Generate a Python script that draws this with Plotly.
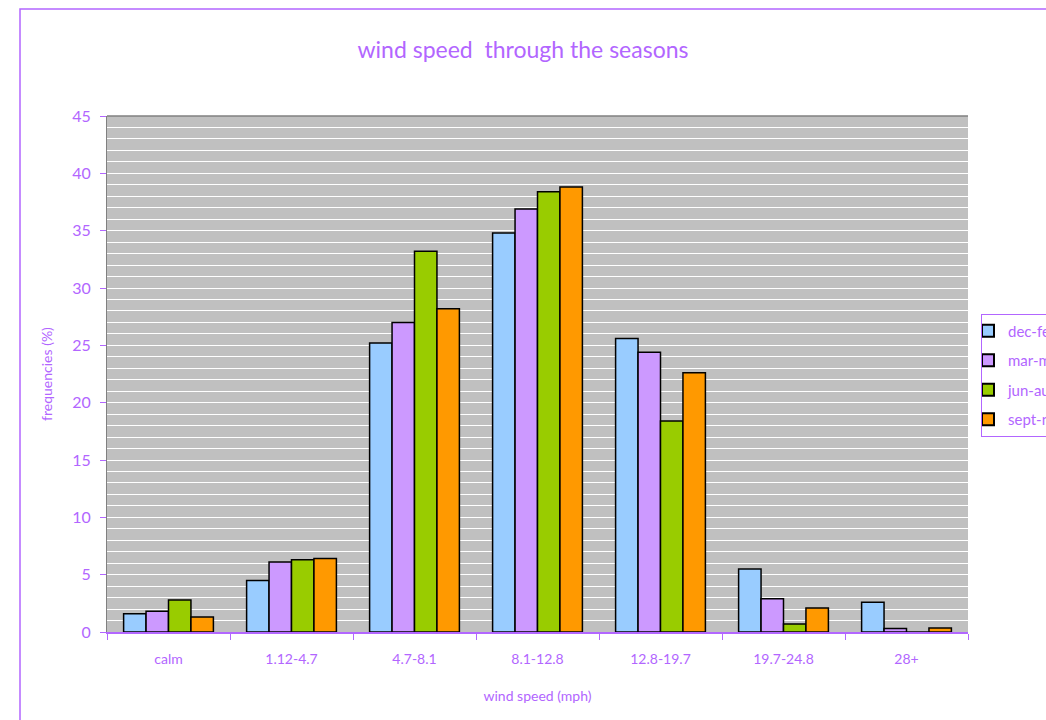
import plotly.graph_objects as go

# Wind speed bins (mph) and seasonal frequency (%) per bin
categories = ["calm", "1.12-4.7", "4.7-8.1", "8.1-12.8", "12.8-19.7", "19.7-24.8", "28+"]
dec_feb = [1.6, 4.5, 25.2, 34.8, 25.6, 5.5, 2.6]
mar_may = [1.8, 6.1, 27.0, 36.9, 24.4, 2.9, 0.3]
jun_aug = [2.8, 6.3, 33.2, 38.4, 18.4, 0.7, 0.0]
sept_nov = [1.3, 6.4, 28.2, 38.8, 22.6, 2.1, 0.35]

series = [
    ("dec-feb", dec_feb, "#99CCFF"),
    ("mar-may", mar_may, "#CC99FF"),
    ("jun-aug", jun_aug, "#99CC00"),
    ("sept-nov", sept_nov, "#FF9900"),
]

PURPLE = "#B266FF"
FONT = "Lato"

fig = go.Figure()
for name, vals, color in series:
    fig.add_trace(go.Bar(
        name=name, x=categories, y=vals, legendgroup=name,
        marker=dict(color=color, line=dict(color="#000000", width=1.5)),
    ))

W, H = 1046, 720
L, R, T, B = 107, 78, 116, 88
pw, ph = W - L - R, H - T - B

def px_x(p):
    return (p - L) / pw

def px_y(p):
    return (H - B - p) / ph

fig.update_layout(
    width=W, height=H,
    margin=dict(l=L, r=R, t=T, b=B, autoexpand=False),
    paper_bgcolor="white",
    plot_bgcolor="#C0C0C0",
    barmode="group",
    bargap=0.27,
    bargroupgap=0.0,
    font=dict(family=FONT, color=PURPLE),
    title=dict(text="wind speed  through the seasons", x=0.5, xanchor="center",
               y=1 - 50 / H, yanchor="middle",
               font=dict(size=23, color=PURPLE, family=FONT)),
    legend=dict(x=px_x(981), xanchor="left", y=px_y(375), yanchor="middle",
                bordercolor=PURPLE, borderwidth=1, bgcolor="white",
                font=dict(size=15, color=PURPLE, family=FONT),
                tracegroupgap=7, itemsizing="constant",
                itemwidth=30, indentation=-14),
    xaxis=dict(
        showgrid=False, zeroline=False,
        showline=True, linecolor=PURPLE, linewidth=2,
        ticks="outside", tickson="boundaries", ticklen=6, tickcolor=PURPLE,
        ticklabelstandoff=13,
        tickfont=dict(size=14, color=PURPLE, family=FONT),
        title=dict(text="wind speed (mph)", standoff=25,
                   font=dict(size=14, color=PURPLE, family=FONT)),
    ),
    yaxis=dict(
        range=[0, 45], dtick=5,
        showgrid=True, gridcolor="white", gridwidth=1,
        minor=dict(dtick=1, showgrid=True, gridcolor="white", gridwidth=1),
        zeroline=False,
        showline=True, linecolor="#808080", linewidth=1,
        ticks="outside", ticklen=6, tickcolor=PURPLE,
        ticklabelstandoff=6,
        tickfont=dict(size=16, color=PURPLE, family=FONT),
        title=dict(text="frequencies (%)", standoff=16,
                   font=dict(size=14, color=PURPLE, family=FONT)),
    ),
    shapes=[
        # outer chart frame
        dict(type="rect", xref="paper", yref="paper",
             x0=px_x(20), x1=px_x(1060), y0=px_y(9), y1=px_y(730),
             line=dict(color=PURPLE, width=1.5), layer="below"),
        # top edge of the plot area
        dict(type="line", xref="paper", yref="paper",
             x0=0, x1=1, y0=1, y1=1,
             line=dict(color="#808080", width=1.5)),
    ],
)

fig.write_html("out.html")
